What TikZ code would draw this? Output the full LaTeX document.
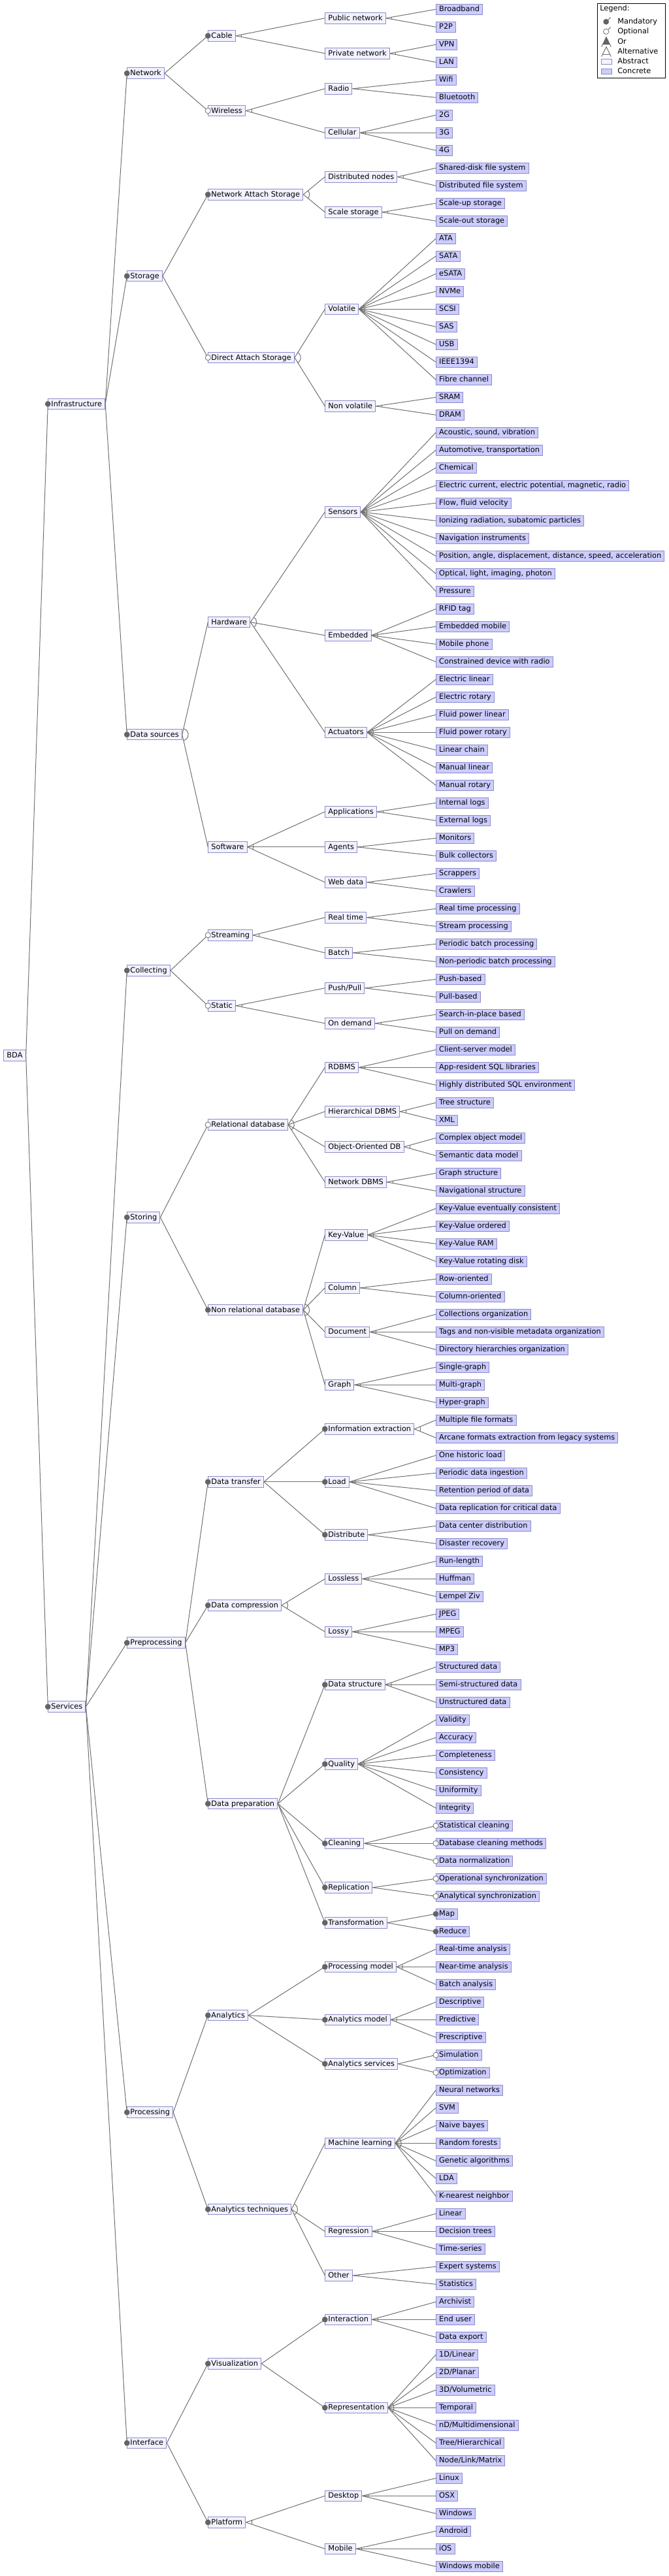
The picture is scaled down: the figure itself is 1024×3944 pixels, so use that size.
\documentclass[tikz,border=0pt]{standalone}
\usepackage{fontspec}
\setmainfont{DejaVu Sans}
\usetikzlibrary{calc}
\definecolor{fabs}{RGB}{242,242,255}
\definecolor{fcon}{RGB}{204,204,255}
\definecolor{fbord}{RGB}{140,140,200}
\definecolor{lgray}{RGB}{112,112,112}
\definecolor{mgray}{RGB}{100,100,100}
\newcommand{\grparc}[3]{%
  \draw[edge] let \p1=($(#2.west)-(#1.east)$), \p2=($(#3.west)-(#1.east)$),
    \n1={atan2(\y1,\x1)}, \n2={atan2(\y2,\x2)} in
    (#1.east) ++(\n1:7pt) arc[start angle=\n1, end angle=\n2, radius=7pt];}

\begin{document}
\begin{tikzpicture}[x=0.75pt, y=-0.75pt, font=\fontsize{8.5}{10}\selectfont,
    feat/.style={draw=fbord, fill=fabs, line width=0.75pt, anchor=west, inner xsep=3.5pt,
      inner ysep=1.3pt, text height=7.6pt, text depth=2.2pt},
    conc/.style={feat, fill=fcon},
    edge/.style={draw=lgray, line width=0.75pt},
    mand/.style={fill=mgray},
    opt/.style={draw=lgray, fill=white, line width=0.6pt}]
  \useasboundingbox (0,0) rectangle (1024,3944);

  \begin{scope}[shift={(0,14.3)}, y=-20.25pt]
    % root and upper levels
    \node[feat] (bda) at (5.3,59.3125) {BDA};
    \node[feat] (infra) at (73.3,22.375) {Infrastructure};
    \node[feat] (serv) at (73.3,96.25) {Services};
    \node[feat] (net) at (194.3,3.625) {Network};
    \node[feat] (stor) at (194.3,15.125) {Storage};
    \node[feat] (dsrc) at (194.3,41.125) {Data sources};
    \node[feat] (coll) at (194.3,54.5) {Collecting};
    \node[feat] (sto) at (194.3,68.5) {Storing};
    \node[feat] (prep) at (194.3,92.625) {Preprocessing};
    \node[feat] (proc) at (194.3,119.25) {Processing};
    \node[feat] (intf) at (194.3,138) {Interface};

    \node[feat] (cable) at (318.3,1.5) {Cable};
    \node[feat] (wless) at (318.3,5.75) {Wireless};
    \node[feat] (nas) at (318.3,10.5) {Network Attach Storage};
    \node[feat] (das) at (318.3,19.75) {Direct Attach Storage};
    \node[feat] (hw) at (318.3,34.75) {Hardware};
    \node[feat] (sw) at (318.3,47.5) {Software};
    \node[feat] (strm) at (318.3,52.5) {Streaming};
    \node[feat] (stat) at (318.3,56.5) {Static};
    \node[feat] (rdb) at (318.3,63.25) {Relational database};
    \node[feat] (nrdb) at (318.3,73.75) {Non relational database};
    \node[feat] (dtr) at (318.3,83.5) {Data transfer};
    \node[feat] (dcmp) at (318.3,90.5) {Data compression};
    \node[feat] (dprep) at (318.3,101.75) {Data preparation};
    \node[feat] (anl) at (318.3,113.75) {Analytics};
    \node[feat] (anlt) at (318.3,124.75) {Analytics techniques};
    \node[feat] (vis) at (318.3,133.5) {Visualization};
    \node[feat] (plat) at (318.3,142.5) {Platform};

    \node[feat] (pubn) at (497.3,0.5) {Public network};
    \node[feat] (privn) at (497.3,2.5) {Private network};
    \node[feat] (radio) at (497.3,4.5) {Radio};
    \node[feat] (cell) at (497.3,7) {Cellular};
    \node[feat] (dnod) at (497.3,9.5) {Distributed nodes};
    \node[feat] (scst) at (497.3,11.5) {Scale storage};
    \node[feat] (vol) at (497.3,17) {Volatile};
    \node[feat] (nvol) at (497.3,22.5) {Non volatile};
    \node[feat] (sens) at (497.3,28.5) {Sensors};
    \node[feat] (emb) at (497.3,35.5) {Embedded};
    \node[feat] (act) at (497.3,41) {Actuators};
    \node[feat] (app) at (497.3,45.5) {Applications};
    \node[feat] (agt) at (497.3,47.5) {Agents};
    \node[feat] (web) at (497.3,49.5) {Web data};
    \node[feat] (rt) at (497.3,51.5) {Real time};
    \node[feat] (batch) at (497.3,53.5) {Batch};
    \node[feat] (push) at (497.3,55.5) {Push/Pull};
    \node[feat] (odem) at (497.3,57.5) {On demand};
    \node[feat] (rdbms) at (497.3,60) {RDBMS};
    \node[feat] (hdbms) at (497.3,62.5) {Hierarchical DBMS};
    \node[feat] (oodb) at (497.3,64.5) {Object-Oriented DB};
    \node[feat] (ndbms) at (497.3,66.5) {Network DBMS};
    \node[feat] (kv) at (497.3,69.5) {Key-Value};
    \node[feat] (col) at (497.3,72.5) {Column};
    \node[feat] (doc) at (497.3,75) {Document};
    \node[feat] (graph) at (497.3,78) {Graph};
    \node[feat] (iext) at (497.3,80.5) {Information extraction};
    \node[feat] (load) at (497.3,83.5) {Load};
    \node[feat] (dist) at (497.3,86.5) {Distribute};
    \node[feat] (lossl) at (497.3,89) {Lossless};
    \node[feat] (lossy) at (497.3,92) {Lossy};
    \node[feat] (dstr) at (497.3,95) {Data structure};
    \node[feat] (qual) at (497.3,99.5) {Quality};
    \node[feat] (clean) at (497.3,104) {Cleaning};
    \node[feat] (repl) at (497.3,106.5) {Replication};
    \node[feat] (trans) at (497.3,108.5) {Transformation};
    \node[feat] (pmod) at (497.3,111) {Processing model};
    \node[feat] (amod) at (497.3,114) {Analytics model};
    \node[feat] (asrv) at (497.3,116.5) {Analytics services};
    \node[feat] (ml) at (497.3,121) {Machine learning};
    \node[feat] (regr) at (497.3,126) {Regression};
    \node[feat] (oth) at (497.3,128.5) {Other};
    \node[feat] (inter) at (497.3,131) {Interaction};
    \node[feat] (repr) at (497.3,136) {Representation};
    \node[feat] (desk) at (497.3,141) {Desktop};
    \node[feat] (mob) at (497.3,144) {Mobile};

    % concrete leaves, one per row
    \foreach \t [count=\i from 0] in {Broadband, P2P, VPN, LAN, Wifi, Bluetooth, 2G, 3G, 4G,
        Shared-disk file system, Distributed file system, Scale-up storage, Scale-out storage,
        ATA, SATA, eSATA, NVMe, SCSI, SAS, USB, IEEE1394, Fibre channel, SRAM, DRAM,
        {Acoustic, sound, vibration}, {Automotive, transportation}, Chemical,
        {Electric current, electric potential, magnetic, radio}, {Flow, fluid velocity},
        {Ionizing radiation, subatomic particles}, Navigation instruments,
        {Position, angle, displacement, distance, speed, acceleration},
        {Optical, light, imaging, photon}, Pressure,
        RFID tag, Embedded mobile, Mobile phone, Constrained device with radio,
        Electric linear, Electric rotary, Fluid power linear, Fluid power rotary, Linear chain,
        Manual linear, Manual rotary, Internal logs, External logs, Monitors, Bulk collectors,
        Scrappers, Crawlers,
        Real time processing, Stream processing, Periodic batch processing,
        Non-periodic batch processing, Push-based, Pull-based, Search-in-place based, Pull on demand,
        Client-server model, App-resident SQL libraries, Highly distributed SQL environment,
        Tree structure, XML, Complex object model, Semantic data model, Graph structure,
        Navigational structure, Key-Value eventually consistent, Key-Value ordered, Key-Value RAM,
        Key-Value rotating disk, Row-oriented, Column-oriented, Collections organization,
        Tags and non-visible metadata organization, Directory hierarchies organization,
        Single-graph, Multi-graph, Hyper-graph,
        Multiple file formats, Arcane formats extraction from legacy systems, One historic load,
        Periodic data ingestion, Retention period of data, Data replication for critical data,
        Data center distribution, Disaster recovery, Run-length, Huffman, Lempel Ziv, JPEG, MPEG, MP3,
        Structured data, Semi-structured data, Unstructured data, Validity, Accuracy, Completeness,
        Consistency, Uniformity, Integrity, Statistical cleaning, Database cleaning methods,
        Data normalization, Operational synchronization, Analytical synchronization, Map, Reduce,
        Real-time analysis, Near-time analysis, Batch analysis, Descriptive, Predictive, Prescriptive,
        Simulation, Optimization, Neural networks, SVM, Naive bayes, Random forests,
        Genetic algorithms, LDA, K-nearest neighbor, Linear, Decision trees, Time-series,
        Expert systems, Statistics, Archivist, End user, Data export, 1D/Linear, 2D/Planar,
        3D/Volumetric, Temporal, nD/Multidimensional, Tree/Hierarchical, Node/Link/Matrix,
        Linux, OSX, Windows, Android, iOS, Windows mobile}
      \node[conc] (f\i) at (667,\i) {\t};

    % connectors between features
    \foreach \u/\vs in {bda/{infra,serv}, infra/{net,stor,dsrc}, serv/{coll,sto,prep,proc,intf},
        net/{cable,wless}, stor/{nas,das}, dsrc/{hw,sw}, coll/{strm,stat}, sto/{rdb,nrdb},
        prep/{dtr,dcmp,dprep}, proc/{anl,anlt}, intf/{vis,plat},
        cable/{pubn,privn}, wless/{radio,cell}, nas/{dnod,scst}, das/{vol,nvol}, hw/{sens,emb,act},
        sw/{app,agt,web}, strm/{rt,batch}, stat/{push,odem}, rdb/{rdbms,hdbms,oodb,ndbms},
        nrdb/{kv,col,doc,graph}, dtr/{iext,load,dist}, dcmp/{lossl,lossy},
        dprep/{dstr,qual,clean,repl,trans}, anl/{pmod,amod,asrv}, anlt/{ml,regr,oth},
        vis/{inter,repr}, plat/{desk,mob}}
      \foreach \w in \vs \draw[edge] (\u.east) -- (\w.west);
    \foreach \u/\a/\b in {pubn/0/1, privn/2/3, radio/4/5, cell/6/8, dnod/9/10, scst/11/12,
        vol/13/21, nvol/22/23, sens/24/33, emb/34/37, act/38/44, app/45/46, agt/47/48, web/49/50,
        rt/51/52, batch/53/54, push/55/56, odem/57/58, rdbms/59/61, hdbms/62/63, oodb/64/65,
        ndbms/66/67, kv/68/71, col/72/73, doc/74/76, graph/77/79, iext/80/81, load/82/85,
        dist/86/87, lossl/88/90, lossy/91/93, dstr/94/96, qual/97/102, clean/103/105,
        repl/106/107, trans/108/109, pmod/110/112, amod/113/115, asrv/116/117, ml/118/124,
        regr/125/127, oth/128/129, inter/130/132, repr/133/139, desk/140/142, mob/143/145}
      \foreach \i in {\a,...,\b} \draw[edge] (\u.east) -- (f\i.west);

    % group arcs
    \foreach \u/\a/\b in {cable/pubn/privn, wless/radio/cell, nas/dnod/scst, das/vol/nvol,
        dsrc/hw/sw, hw/sens/act, sw/app/web, strm/rt/batch, stat/push/odem, rdb/rdbms/ndbms,
        nrdb/kv/graph, dcmp/lossl/lossy, anlt/ml/oth, plat/desk/mob,
        pubn/f0/f1, privn/f2/f3, radio/f4/f5, cell/f6/f8, dnod/f9/f10, scst/f11/f12,
        vol/f13/f21, nvol/f22/f23, sens/f24/f33, emb/f34/f37, act/f38/f44, app/f45/f46,
        agt/f47/f48, web/f49/f50, rt/f51/f52, batch/f53/f54, push/f55/f56, odem/f57/f58,
        rdbms/f59/f61, hdbms/f62/f63, oodb/f64/f65, ndbms/f66/f67, kv/f68/f71, col/f72/f73,
        doc/f74/f76, graph/f77/f79, iext/f80/f81, load/f82/f85, dist/f86/f87, lossl/f88/f90,
        lossy/f91/f93, dstr/f94/f96, qual/f97/f102, pmod/f110/f112, amod/f113/f115,
        ml/f118/f124, regr/f125/f127, oth/f128/f129, inter/f130/f132, repr/f133/f139,
        desk/f140/f142, mob/f143/f145}
      {\grparc{\u}{\a}{\b}}

    % mandatory and optional markers
    \foreach \u in {infra, serv, net, stor, dsrc, coll, sto, prep, proc, intf, cable, nas, nrdb,
        dtr, dcmp, dprep, anl, anlt, vis, plat, iext, load, dist, dstr, qual, clean, repl, trans,
        pmod, amod, asrv, inter, repr, f108, f109}
      \fill[mand] (\u.west) circle (3.3pt);
    \foreach \u in {wless, das, strm, stat, rdb, f103, f104, f105, f106, f107, f116, f117}
      \filldraw[opt] (\u.west) circle (3.1pt);
  \end{scope}

  % legend
  \draw[black, line width=0.75pt] (914.3,5.3) rectangle (1018.7,119.3);
  \node[anchor=west, inner sep=0] (lgd) at (918,13.3) {Legend:};
  \node[anchor=west, inner sep=0] (lmand) at (945,33.3) {Mandatory};
  \node[anchor=west, inner sep=0] (lopt) at (945,48.3) {Optional};
  \node[anchor=west, inner sep=0] (lor) at (945,63.3) {Or};
  \node[anchor=west, inner sep=0] (lalt) at (945,78.3) {Alternative};
  \node[anchor=west, inner sep=0] (labs) at (945,93.3) {Abstract};
  \node[anchor=west, inner sep=0] (lcon) at (945,108.3) {Concrete};
  \draw[edge] (927.7,33.3) -- (934.7,26.7);
  \fill[mand] (927.7,33.3) circle (3.3pt);
  \draw[edge] (927.7,48.3) -- (934.7,41.7);
  \filldraw[opt] (927.7,48.3) circle (3.1pt);
  \draw[edge] (920.7,71.7) -- (928,56.7) -- (935.3,71.7);
  \fill[mgray] (928,56.7) -- (922.4,68.3) -- (933.6,68.3) -- cycle;
  \draw[edge] (920.7,86.7) -- (928,71.7) -- (935.3,86.7);
  \draw[edge] (922.4,83.3) -- (933.6,83.3);
  \filldraw[draw=fbord, fill=fabs, line width=0.75pt] (920.3,90.3) rectangle (936.3,98.3);
  \filldraw[draw=fbord, fill=fcon, line width=0.75pt] (920.3,105.3) rectangle (936.3,113.3);
\end{tikzpicture}
\end{document}
